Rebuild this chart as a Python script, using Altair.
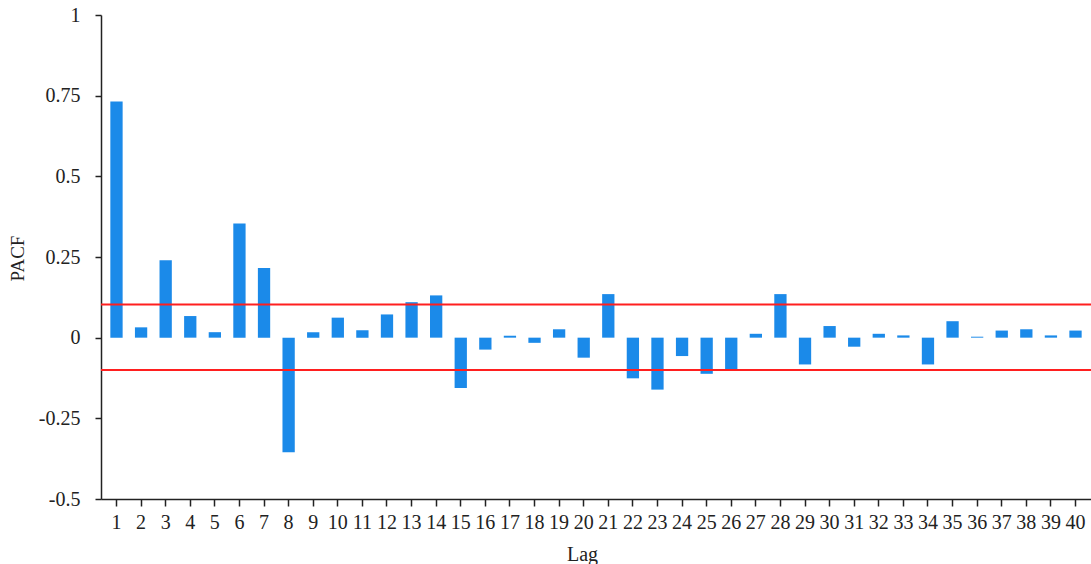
import altair as alt
import pandas as pd

# Partial autocorrelation by lag
lags = list(range(1, 41))
pacf = [
    0.732, 0.032, 0.240, 0.067, 0.017, 0.354, 0.216, -0.355, 0.017, 0.062,
    0.023, 0.072, 0.110, 0.131, -0.156, -0.037, 0.006, -0.016, 0.026, -0.062,
    0.135, -0.126, -0.161, -0.057, -0.112, -0.098, 0.012, 0.135, -0.083, 0.036,
    -0.028, 0.012, 0.007, -0.083, 0.051, 0.003, 0.022, 0.026, 0.007, 0.022,
]
# Confidence bounds
bounds = [0.103, -0.100]
y_ticks = [-0.5, -0.25, 0, 0.25, 0.5, 0.75, 1]

FONT = "Liberation Serif"
INK = "#222222"

df = pd.DataFrame({"lag": lags, "pacf": pacf})
df_b = pd.DataFrame({"bound": bounds})

x_enc = alt.X(
    "lag:O",
    sort=lags,
    scale=alt.Scale(paddingInner=0.5, paddingOuter=0.38),
    axis=alt.Axis(
        title="Lag",
        labelAngle=0,
        labelFont=FONT,
        labelFontSize=20,
        labelColor=INK,
        labelPadding=6,
        tickSize=7,
        tickColor=INK,
        tickWidth=1.5,
        domainColor=INK,
        domainWidth=1.5,
        titleFont=FONT,
        titleFontSize=20,
        titleFontWeight="normal",
        titleColor=INK,
        titleX=481,
        titleY=61,
        titleAlign="center",
        titleBaseline="alphabetic",
        grid=False,
    ),
)

y_scale = alt.Scale(domain=[-0.5, 1], nice=False, zero=False)

bars = alt.Chart(df).mark_bar(color="#1b8ae9").encode(
    x=x_enc,
    y=alt.Y(
        "pacf:Q",
        scale=y_scale,
        axis=alt.Axis(
            title="PACF",
            values=y_ticks,
            labelExpr="'' + datum.value",
            labelFont=FONT,
            labelFontSize=20,
            labelColor=INK,
            labelPadding=15,
            tickSize=6,
            tickColor=INK,
            tickWidth=1.5,
            domainColor=INK,
            domainWidth=1.5,
            titleFont=FONT,
            titleFontSize=19,
            titleFontWeight="normal",
            titleColor=INK,
            titleX=-84,
            titleY=243,
            titleAlign="center",
            titleBaseline="middle",
            grid=False,
        ),
    ),
    y2=alt.datum(0),
)

rules = alt.Chart(df_b).mark_rule(color="#ff1f1f", strokeWidth=2).encode(
    y=alt.Y("bound:Q", scale=y_scale)
)

chart = (
    alt.layer(bars, rules)
    .properties(
        width=990,
        height=484,
        autosize=alt.AutoSizeParams(type="none"),
        padding={"left": 101, "top": 15, "right": 0, "bottom": 65},
        background="white",
    )
    .configure_view(stroke=None)
)

chart.save("out.html", embed_options={"renderer": "svg", "actions": False})
